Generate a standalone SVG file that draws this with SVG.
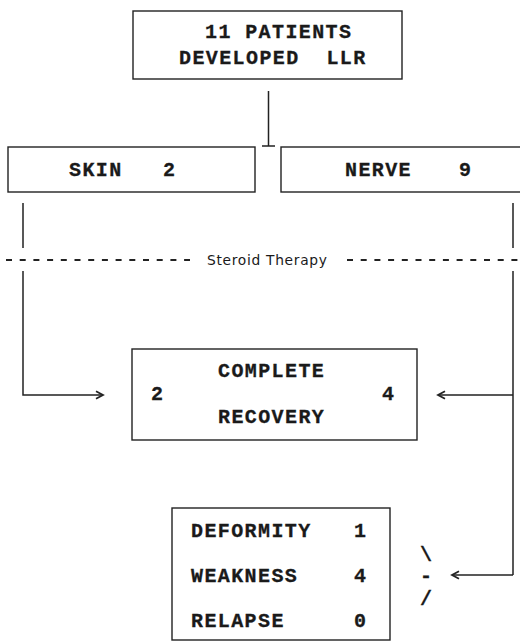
<svg xmlns="http://www.w3.org/2000/svg" width="520" height="641" viewBox="0 0 520 641">
<style>
.box{fill:#fff;stroke:#222;stroke-width:1.4}
.t{font-family:"Liberation Mono","Courier New",monospace;font-weight:bold;font-size:20px;letter-spacing:1.4px;fill:#1a1a1a;stroke:#1a1a1a;stroke-width:0.3;white-space:pre}
.c{fill:none;stroke:#222;stroke-width:1.5}
.d{fill:none;stroke:#222;stroke-width:2;stroke-dasharray:6 7.7}
.s{font-family:"DejaVu Sans",sans-serif;font-size:13.8px;letter-spacing:0.7px;fill:#1a1a1a}
</style>
<defs>
<marker id="ah" markerWidth="12" markerHeight="12" refX="10" refY="6" orient="auto" markerUnits="userSpaceOnUse">
<path d="M3,2.2 L10,6 L3,9.8" fill="none" stroke="#222" stroke-width="1.8"/>
</marker>
</defs>
<rect width="520" height="641" fill="#fff"/>
<g id="connectors">
<path class="c" d="M268.5,91 V146 M262,146 H275"/>
<path class="c" d="M23,203 V248 M513,203 V248"/>
<path class="d" d="M6,260 H190 M347,260 H520"/>
<path class="c" d="M23,271 V395 H103" marker-end="url(#ah)"/>
<path class="c" d="M513,271 V575 M513,395 H438" marker-end="url(#ah)"/>
<path class="c" d="M513,575 H452" marker-end="url(#ah)"/>
<text class="s" x="207" y="265">Steroid Therapy</text>
<text class="t"><tspan x="420" y="561">\</tspan><tspan x="420" y="582">-</tspan><tspan x="420" y="605">/</tspan></text>
</g>
<g id="node-top">
<rect class="box" x="133" y="11" width="269" height="68"/>
<text class="t" x="205" y="38">11 PATIENTS</text>
<text class="t" x="179" y="64">DEVELOPED  LLR</text>
</g>
<g id="node-skin">
<rect class="box" x="8" y="147" width="247" height="45"/>
<text class="t" x="69" y="176">SKIN</text>
<text class="t" x="163" y="176">2</text>
</g>
<g id="node-nerve">
<rect class="box" x="281" y="147" width="250" height="45"/>
<text class="t" x="345" y="176">NERVE</text>
<text class="t" x="459" y="176">9</text>
</g>
<g id="node-complete">
<rect class="box" x="132" y="349" width="285" height="91"/>
<text class="t" x="218" y="377">COMPLETE</text>
<text class="t" x="218" y="423">RECOVERY</text>
<text class="t" x="151" y="400">2</text>
<text class="t" x="382" y="400">4</text>
</g>
<g id="node-outcome">
<rect class="box" x="172" y="508" width="218" height="132"/>
<text class="t" x="191" y="537">DEFORMITY</text>
<text class="t" x="354" y="537">1</text>
<text class="t" x="191" y="582">WEAKNESS</text>
<text class="t" x="354" y="582">4</text>
<text class="t" x="191" y="627">RELAPSE</text>
<text class="t" x="354" y="627">0</text>
</g>
</svg>
